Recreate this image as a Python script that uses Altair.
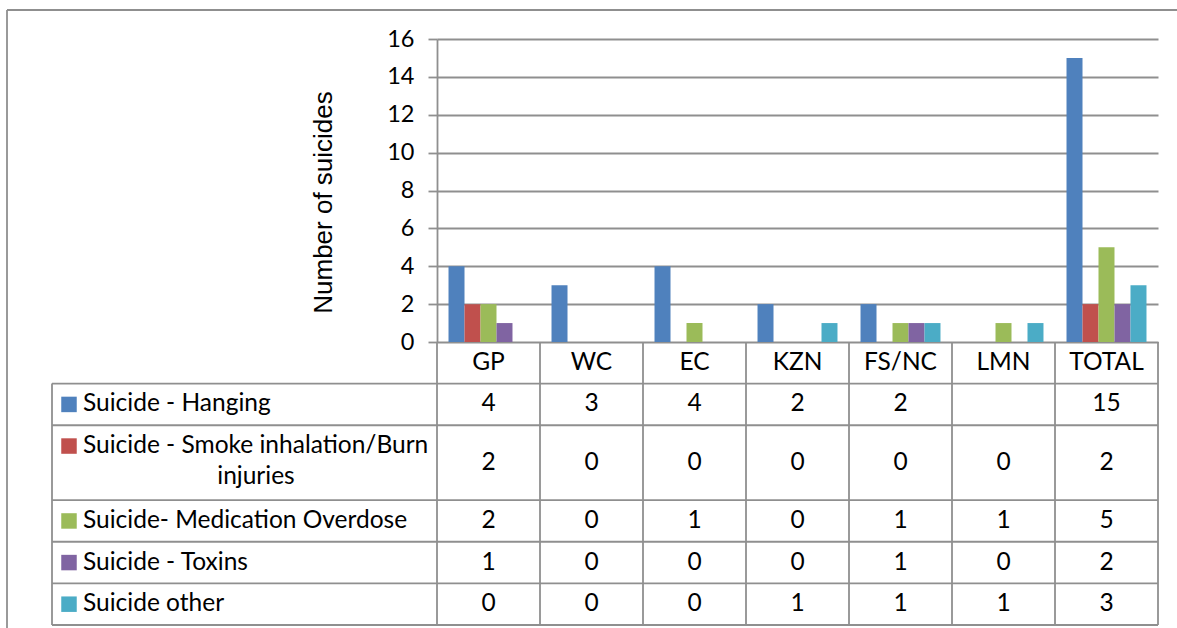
import altair as alt
import pandas as pd

# ---- data -------------------------------------------------------------
categories = ["GP", "WC", "EC", "KZN", "FS/NC", "LMN", "TOTAL"]
series = [
    "Suicide - Hanging",
    "Suicide - Smoke inhalation/Burn injuries",
    "Suicide- Medication Overdose",
    "Suicide - Toxins",
    "Suicide other",
]
# text of the first table column, one list entry per printed line
label_lines = [
    ["Suicide - Hanging"],
    ["Suicide - Smoke inhalation/Burn", "injuries"],
    ["Suicide- Medication Overdose"],
    ["Suicide - Toxins"],
    ["Suicide other"],
]
hanging = [4, 3, 4, 2, 2, None, 15]
smoke_burn = [2, 0, 0, 0, 0, 0, 2]
medication = [2, 0, 1, 0, 1, 1, 5]
toxins = [1, 0, 0, 0, 1, 0, 2]
other = [0, 0, 0, 1, 1, 1, 3]
y_ticks = [0, 2, 4, 6, 8, 10, 12, 14, 16]
colors = ["#4F81BD", "#C0504D", "#9BBB59", "#8064A2", "#4BACC6"]

# ---- layout constants ---------------------------------------------------
PLOT_W, PLOT_H = 721, 303        # bar plot area
TABLE_H = 283                    # data table below the plot
LABEL_COL = 385                  # width of the table's label column
LINE = "#8f8f8f"
TXT_FONT = "Lato"
TXT_SIZE = 24.5

# table rows in "line units": header row, then one row per series
row_heights = [1.0] + [1.0 + 0.8 * (len(l) - 1) for l in label_lines]
edges = [0.0]
for h in row_heights:
    edges.append(edges[-1] + h)
table_units = edges[-1]

columns = [hanging, smoke_burn, medication, toxins, other]
cells = []
for si, (name, vals) in enumerate(zip(series, columns)):
    top, bottom = edges[si + 1], edges[si + 2]
    for cat, v in zip(categories, vals):
        cells.append({
            "category": cat,
            "series": name,
            "value": v,
            "label": "" if v is None else str(v),
            "row_mid": (top + bottom) / 2,
        })
cells_df = pd.DataFrame(cells)
bars_df = cells_df.dropna(subset=["value"])

labels = []
for si, (name, lines) in enumerate(zip(series, label_lines)):
    top = edges[si + 1]
    for li, text in enumerate(lines):
        labels.append({"series": name, "text": text, "line": li,
                       "y": top + 0.5 + 0.75 * li})
labels_df = pd.DataFrame(labels)

header_df = pd.DataFrame({"category": categories, "y": [0.5] * len(categories)})
hlines_df = pd.DataFrame({"y": edges[1:]})
vlines_df = pd.DataFrame(
    [{"category": c, "y": 0.0, "y2": table_units} for c in categories]
)
one = pd.DataFrame({"k": [0]})

# ---- scales -------------------------------------------------------------
x_scale = alt.Scale(paddingInner=0, paddingOuter=0)
row_scale = alt.Scale(domain=[0, table_units], range=[PLOT_H, PLOT_H + TABLE_H])
color_scale = alt.Scale(domain=series, range=colors)


def xcat(**kw):
    return alt.X("category:N", sort=categories, scale=x_scale, axis=None, **kw)


def yrow(field):
    return alt.Y(field, type="quantitative", scale=row_scale, axis=None)


# ---- bars ---------------------------------------------------------------
bars = alt.Chart(bars_df).mark_bar().encode(
    x=xcat(),
    xOffset=alt.XOffset("series:N", sort=series,
                        scale=alt.Scale(paddingInner=0, paddingOuter=0.72)),
    y=alt.Y(
        "value:Q",
        scale=alt.Scale(domain=[0, 16], nice=False),
        axis=alt.Axis(
            values=y_ticks, grid=True, gridColor=LINE, gridWidth=1.8,
            domainColor=LINE, domainWidth=1.8,
            tickColor=LINE, tickWidth=1.8, tickSize=9,
            labelFont=TXT_FONT, labelFontSize=23.5, labelColor="black",
            labelPadding=14,
            title="Number of suicides", titleFont="Liberation Sans",
            titleFontSize=26, titleFontWeight="normal", titleColor="black",
            titleX=-114, titleY=163, titleAlign="center",
            titleBaseline="middle",
        ),
    ),
    color=alt.Color("series:N", scale=color_scale, legend=None),
)

# ---- data table -----------------------------------------------------------
hlines = alt.Chart(hlines_df).mark_rule(color=LINE, strokeWidth=1.8).encode(
    y=yrow("y"), x=alt.value(-LABEL_COL), x2=alt.value(PLOT_W)
)
vlines = alt.Chart(vlines_df).mark_rule(color=LINE, strokeWidth=1.8).encode(
    x=xcat(bandPosition=0), y=yrow("y"), y2="y2:Q"
)
right_edge = alt.Chart(vlines_df.tail(1)).mark_rule(color=LINE, strokeWidth=1.8).encode(
    x=xcat(bandPosition=1), y=yrow("y"), y2="y2:Q"
)
left_edge = alt.Chart(pd.DataFrame({"y": [edges[1]], "y2": [table_units]})).mark_rule(
    color=LINE, strokeWidth=1.8
).encode(x=alt.value(-LABEL_COL), y=yrow("y"), y2="y2:Q")

header = alt.Chart(header_df).mark_text(
    font=TXT_FONT, fontSize=TXT_SIZE, color="black", baseline="middle"
).encode(x=xcat(), y=yrow("y"), text="category:N")

values = alt.Chart(cells_df).mark_text(
    font=TXT_FONT, fontSize=TXT_SIZE, color="black", baseline="middle"
).encode(x=xcat(), y=yrow("row_mid"), text="label:N")

first_lines = labels_df[labels_df["line"] == 0]
wrapped_lines = labels_df[labels_df["line"] > 0]

label_text = alt.Chart(first_lines).mark_text(
    font=TXT_FONT, fontSize=TXT_SIZE, color="black", align="left",
    baseline="middle"
).encode(x=alt.value(-354), y=yrow("y"), text="text:N")

label_wrap = alt.Chart(wrapped_lines).mark_text(
    font=TXT_FONT, fontSize=TXT_SIZE, color="black", align="center",
    baseline="middle"
).encode(x=alt.value(-181), y=yrow("y"), text="text:N")

swatches = alt.Chart(first_lines).mark_square(size=240, opacity=1).encode(
    x=alt.value(-368), y=yrow("y"),
    color=alt.Color("series:N", scale=color_scale, legend=None),
)

# ---- outer chart frame -----------------------------------------------------
frame_left = alt.Chart(one).mark_rule(color=LINE, strokeWidth=1.8).encode(
    x=alt.value(-430), y=alt.value(-29), y2=alt.value(PLOT_H + 300)
)
frame_top = alt.Chart(one).mark_rule(color=LINE, strokeWidth=1.8).encode(
    y=alt.value(-29), x=alt.value(-430), x2=alt.value(PLOT_W + 40)
)

chart = (
    alt.layer(
        bars, hlines, vlines, right_edge, left_edge, header, values,
        label_text, label_wrap, swatches, frame_left, frame_top,
    )
    .resolve_scale(y="independent")
    .properties(
        width=PLOT_W,
        height=PLOT_H,
        padding={"left": 437, "top": 39, "right": 19, "bottom": 286},
        autosize=alt.AutoSizeParams(type="none"),
        background="white",
    )
    .configure_view(stroke=None)
)

chart.save("out.html", embed_options={"renderer": "svg", "actions": False})
